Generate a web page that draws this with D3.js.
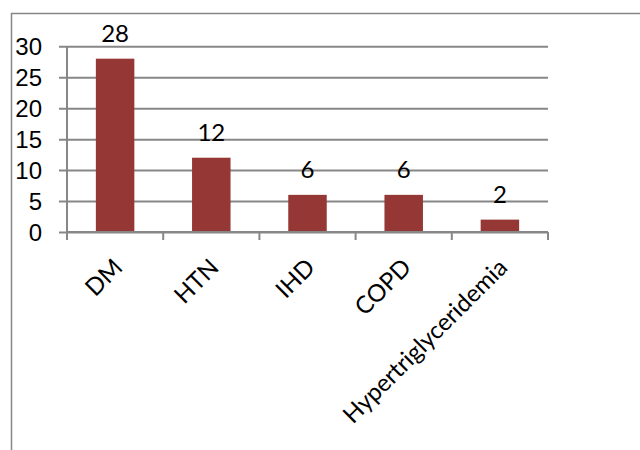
<!DOCTYPE html>
<html>
<head>
<meta charset="utf-8">
<script src="https://cdn.jsdelivr.net/npm/d3@7"></script>
<style>
  html, body { margin: 0; padding: 0; background: #fff; }
  svg { display: block; font-family: Lato, "Open Sans", sans-serif; }
</style>
</head>
<body>
<svg id="chart" width="640" height="450"></svg>
<script>
// Comorbidity counts
const categories = ["DM", "HTN", "IHD", "COPD", "Hypertriglyceridemia"];
const counts = [28, 12, 6, 6, 2];
const yTicks = [0, 5, 10, 15, 20, 25, 30];

const svg = d3.select("#chart");
const barColor = "#953735";
const gridColor = "#878787";
const fontSize = 24;

// outer chart frame (runs off the right and bottom edges)
svg.append("rect")
  .attr("x", 11.5).attr("y", 13.5)
  .attr("width", 700).attr("height", 500)
  .attr("fill", "none")
  .attr("stroke", gridColor)
  .attr("stroke-width", 1.5);

const plot = { left: 67, right: 548, top: 46.3, bottom: 232 };

const x = d3.scaleBand()
  .domain(categories)
  .range([plot.left, plot.right])
  .paddingInner(0.6)
  .paddingOuter(0.3);

const y = d3.scaleLinear()
  .domain([0, 30])
  .range([plot.bottom, plot.top]);

// horizontal gridlines with left ticks
const yAxis = d3.axisLeft(y)
  .tickValues(yTicks)
  .tickSize(-(plot.right - plot.left))
  .tickSizeOuter(0)
  .tickPadding(0);

const gy = svg.append("g")
  .attr("transform", `translate(${plot.left},0)`)
  .call(yAxis);
gy.select(".domain").remove();
gy.selectAll(".tick line")
  .attr("x1", -8)
  .attr("stroke", gridColor)
  .attr("stroke-width", 2);
gy.selectAll(".tick text")
  .attr("x", -25)
  .attr("dy", "0.36em")
  .attr("text-anchor", "end")
  .attr("font-size", fontSize)
  .attr("fill", "#000");

// vertical axis line
svg.append("line")
  .attr("x1", plot.left).attr("x2", plot.left)
  .attr("y1", y(30)).attr("y2", plot.bottom + 8)
  .attr("stroke", gridColor).attr("stroke-width", 2);

// bars
svg.append("g").selectAll("rect")
  .data(categories)
  .join("rect")
  .attr("x", d => x(d))
  .attr("y", (d, i) => y(counts[i]))
  .attr("width", x.bandwidth())
  .attr("height", (d, i) => y(0) - y(counts[i]))
  .attr("fill", barColor);

// value labels above bars
svg.append("g").selectAll("text")
  .data(categories)
  .join("text")
  .attr("x", d => x(d) + x.bandwidth() / 2)
  .attr("y", (d, i) => y(counts[i]) - 16.5)
  .attr("text-anchor", "middle")
  .attr("font-size", fontSize)
  .attr("fill", "#000")
  .text((d, i) => counts[i]);

// category axis line with ticks between categories
const step = x.step();
const boundaries = d3.range(categories.length + 1).map(i => plot.left + i * step);
svg.append("line")
  .attr("x1", plot.left).attr("x2", plot.right)
  .attr("y1", plot.bottom).attr("y2", plot.bottom)
  .attr("stroke", gridColor).attr("stroke-width", 2);
svg.append("g").selectAll("line")
  .data(boundaries)
  .join("line")
  .attr("x1", d => d).attr("x2", d => d)
  .attr("y1", plot.bottom).attr("y2", plot.bottom + 8)
  .attr("stroke", gridColor).attr("stroke-width", 2);

// rotated category labels
svg.append("g").selectAll("text")
  .data(categories)
  .join("text")
  .attr("transform", d => `translate(${x(d) + x.bandwidth() / 2 + 3},263) rotate(-45)`)
  .attr("dy", "0.35em")
  .attr("text-anchor", "end")
  .attr("font-size", fontSize)
  .attr("fill", "#000")
  .text(d => d);
</script>
</body>
</html>
